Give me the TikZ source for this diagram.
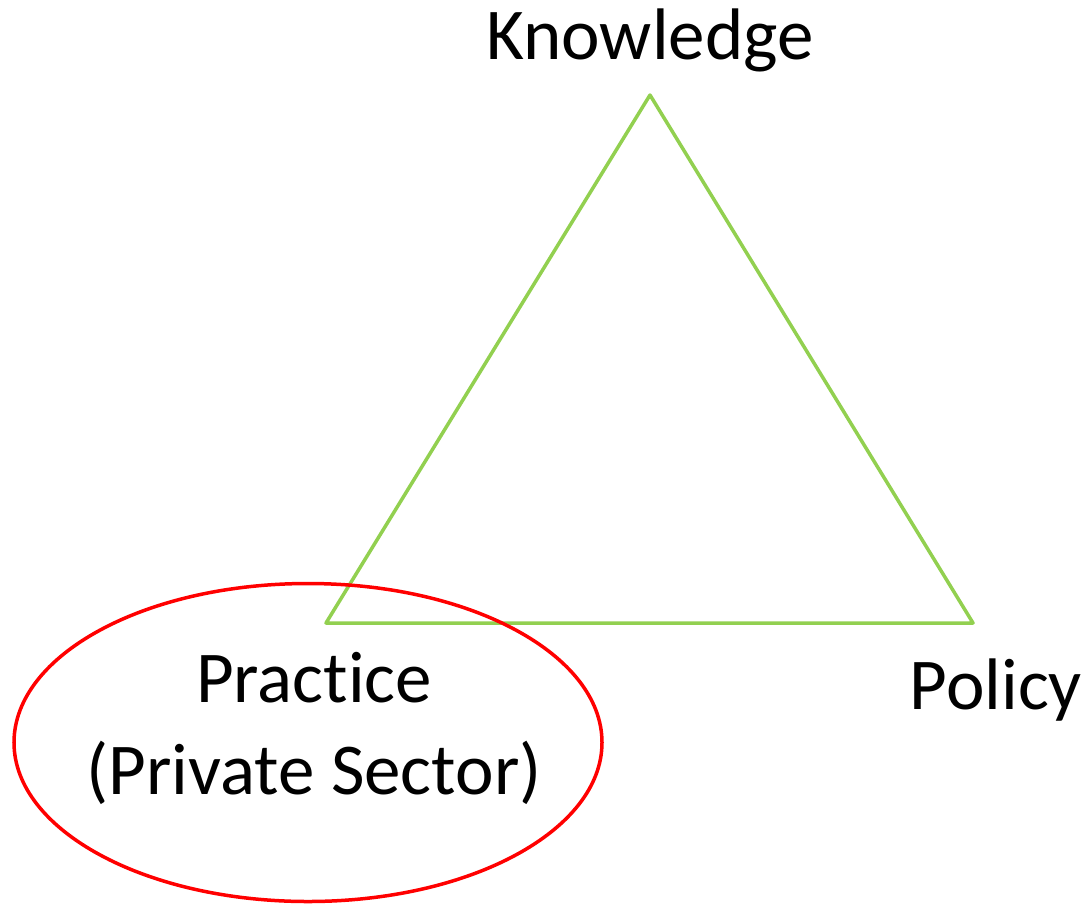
\documentclass[tikz,border=0pt]{standalone}
\usepackage{fontspec}
\setmainfont[Ligatures=NoCommon]{Carlito}
\usetikzlibrary{calc}
\definecolor{leafgreen}{RGB}{146,208,80}
\definecolor{ringred}{RGB}{255,0,0}

\begin{document}
\begin{tikzpicture}[x=1pt,y=-1pt,
    label/.style={font=\fontsize{73}{92}\selectfont,align=center,inner sep=0pt}]
            \useasboundingbox (0,0) rectangle (1087,906);
            % corners of the triangle
            \coordinate (K) at (650,95);
            \coordinate (Pr) at (326,623);
            \coordinate (Po) at (973,623);
            \draw[leafgreen,line width=3.5pt,line join=round] (K) -- (Po) -- (Pr) -- cycle;
            \draw[ringred,line width=3.5pt] (308,742.5) ellipse [x radius=294,y radius=159];
            \node[label] (knowledge) at (650,40) {Knowledge};
            \node[label] (practice) at (314,728) {Practice\\(Private Sector)};
            \node[label] (policy) at (996,690) {Policy};
    \end{tikzpicture}
\end{document}
